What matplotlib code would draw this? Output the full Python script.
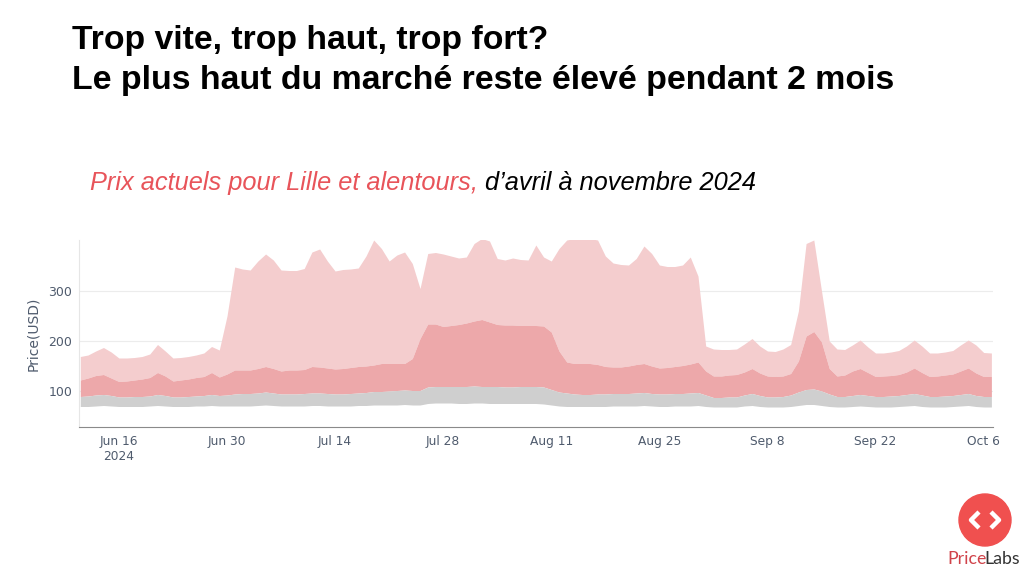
import matplotlib.pyplot as plt
from matplotlib.patches import Circle
import pandas as pd

# Daily price percentiles, Jun 11 -> Oct 7 2024
start_date = '2024-06-11'
p25 = [69, 69, 70, 71, 70, 69, 69, 69, 69, 70, 71, 70, 69, 69, 69, 70, 70, 71, 70, 70,
       70, 70, 70, 71, 72, 71, 70, 70, 70, 70, 71, 71, 70, 70, 70, 70, 71, 71, 72, 72,
       72, 72, 73, 72, 72, 75, 76, 76, 76, 75, 75, 76, 76, 75, 75, 75, 75, 75, 75, 75,
       74, 72, 70, 69, 69, 69, 69, 69, 69, 70, 70, 70, 70, 71, 70, 69, 69, 70, 70, 70,
       71, 69, 68, 68, 68, 68, 70, 71, 69, 68, 68, 68, 69, 71, 73, 73, 71, 69, 68, 68,
       69, 70, 69, 68, 68, 68, 69, 70, 71, 69, 68, 68, 68, 69, 70, 71, 69, 68, 68]
p50 = [89, 90, 92, 93, 91, 88, 88, 89, 89, 90, 93, 91, 88, 88, 89, 90, 91, 93, 91, 92,
       94, 95, 95, 96, 98, 96, 94, 94, 94, 95, 96, 96, 95, 94, 94, 95, 96, 97, 99, 99,
       100, 101, 102, 101, 101, 108, 109, 109, 109, 109, 109, 110, 109, 109, 109, 108, 108, 109, 109, 109,
       108, 103, 98, 96, 94, 93, 93, 94, 94, 95, 95, 95, 96, 97, 95, 94, 94, 95, 95, 96,
       97, 92, 87, 87, 88, 88, 92, 95, 91, 88, 88, 89, 92, 98, 103, 104, 100, 94, 89, 89,
       91, 93, 91, 89, 89, 90, 91, 93, 95, 92, 89, 89, 90, 91, 93, 95, 91, 89, 89]
p75 = [122, 126, 131, 133, 126, 119, 120, 122, 124, 127, 137, 130, 120, 122, 124, 127, 129, 137, 128, 134,
       142, 142, 142, 145, 149, 145, 140, 142, 142, 143, 149, 148, 146, 144, 145, 147, 149, 150, 152, 155,
       155, 155, 155, 165, 205, 234, 234, 229, 231, 233, 236, 240, 243, 238, 233, 232, 232, 231, 231, 231,
       230, 218, 180, 158, 155, 155, 155, 153, 149, 148, 148, 150, 153, 155, 150, 146, 147, 149, 151, 154,
       158, 140, 130, 130, 132, 133, 138, 145, 136, 130, 129, 130, 135, 160, 210, 219, 198, 145, 130, 132,
       140, 145, 137, 129, 130, 131, 133, 138, 146, 137, 129, 130, 132, 134, 140, 146, 136, 129, 129]
p90 = [169, 172, 180, 187, 178, 166, 166, 167, 169, 174, 193, 180, 166, 167, 169, 172, 176, 189, 182, 250,
       348, 344, 342, 360, 374, 362, 342, 341, 341, 345, 378, 384, 360, 340, 343, 344, 346, 370, 402, 385,
       360, 372, 378, 355, 305, 375, 377, 374, 370, 366, 368, 395, 405, 400, 365, 362, 366, 363, 362, 392,
       368, 360, 385, 402, 405, 405, 405, 402, 370, 356, 353, 352, 365, 390, 375, 352, 349, 349, 352, 368,
       330, 190, 184, 183, 183, 184, 194, 205, 190, 180, 179, 184, 193, 260, 395, 402, 300, 200, 184, 183,
       192, 202, 188, 176, 176, 178, 181, 190, 202, 190, 176, 176, 178, 181, 192, 202, 192, 177, 176]

tick_dates = ['2024-06-16', '2024-06-30', '2024-07-14', '2024-07-28', '2024-08-11',
              '2024-08-25', '2024-09-08', '2024-09-22', '2024-10-06']
tick_labels = ['Jun 16\n2024', 'Jun 30', 'Jul 14', 'Jul 28', 'Aug 11',
               'Aug 25', 'Sep 8', 'Sep 22', 'Oct 6']
y_ticks = [100, 200, 300]

dates = pd.date_range(start_date, periods=len(p90), freq='D')

fig = plt.figure(figsize=(10.24, 5.76), dpi=100)
W, H = 1024, 576
title_font = ['Liberation Sans', 'DejaVu Sans']
axis_col = '#4f5b6d'

# Chart
ax = fig.add_axes([79 / W, 149 / H, 914 / W, 187 / H])
ax.fill_between(dates, p75, p90, color='#F4CDCE', linewidth=0)
ax.fill_between(dates, p50, p75, color='#EDA8AA', linewidth=0)
ax.fill_between(dates, p25, p50, color='#CFCFCF', linewidth=0)

ax.set_xlim(dates[0] - pd.Timedelta(hours=4), dates[-1] + pd.Timedelta(hours=5))
ax.set_ylim(28, 402)
ax.set_yticks(y_ticks)
ax.set_xticks(pd.to_datetime(tick_dates))
ax.set_xticklabels(tick_labels)
ax.tick_params(axis='x', length=0, labelsize=8.8, colors=axis_col, pad=6)
ax.tick_params(axis='y', length=0, labelsize=9, colors=axis_col, pad=5)
ax.grid(axis='y', color='#ececec', linewidth=0.8)
ax.set_axisbelow(True)
for s in ['top', 'right']:
    ax.spines[s].set_visible(False)
ax.spines['left'].set_color('#e6e6e6')
ax.spines['bottom'].set_color('#8a8a8a')
ax.set_ylabel('Price(USD)', fontsize=10, color=axis_col, labelpad=6)

# Overlay in pixel coordinates for titles and logo
lax = fig.add_axes([0, 0, 1, 1])
lax.set_xlim(0, W)
lax.set_ylim(H, 0)
lax.axis('off')

lax.text(72, 40, 'Trop vite, trop haut, trop fort?', fontsize=24.3,
         fontweight='bold', family=title_font, va='center', ha='left')
lax.text(72, 80, 'Le plus haut du marché reste élevé pendant 2 mois', fontsize=24.4,
         fontweight='bold', family=title_font, va='center', ha='left')

sub1 = lax.text(90, 183, 'Prix actuels pour Lille et alentours,', fontsize=18.3,
                style='italic', color='#E8545A', family=title_font, va='center', ha='left')
lax.annotate(' d\u2019avril à novembre 2024', xy=(1, 0.5), xycoords=sub1,
             fontsize=18.3, style='italic', color='black', family=title_font,
             va='center', ha='left', annotation_clip=False)

# Logo
lax.add_patch(Circle((985, 520), 26, color='#F0504F'))
lax.plot([979, 971, 979], [512, 520, 528], color='white', lw=3.2, solid_capstyle='butt')
lax.plot([991, 999, 991], [512, 520, 528], color='white', lw=3.2, solid_capstyle='butt')
price = lax.text(947, 559, 'Price', fontsize=12.8, color='#D0434A',
                 family=['Lato', 'DejaVu Sans'], ha='left', va='center')
lax.annotate('Labs', xy=(1, 0.5), xycoords=price, xytext=(-1.5, 0), textcoords='offset points',
             fontsize=12.8, color='#333333', family=['Lato', 'DejaVu Sans'],
             ha='left', va='center', annotation_clip=False)

fig.savefig('out.png', dpi=100)
